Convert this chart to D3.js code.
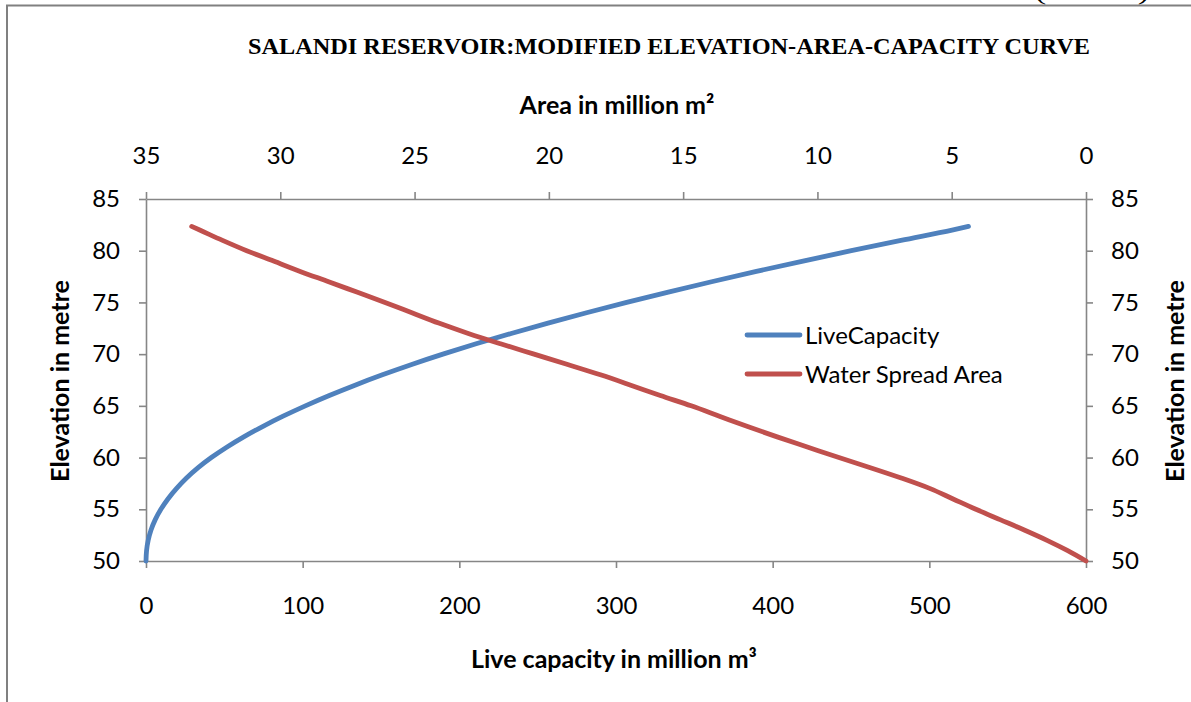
<!DOCTYPE html>
<html>
<head>
<meta charset="utf-8">
<script src="https://cdn.jsdelivr.net/npm/d3@7"></script>
<style>
  body { margin: 0; background: #fff; }
  svg { display: block; }
</style>
</head>
<body>
<svg id="chart" width="1191" height="702"></svg>
<script>
// Elevation (m) of each row of the reservoir table
const elevation = [50, 51, 52, 53, 54, 55, 56, 57, 58, 59, 60, 61, 62, 63, 64, 65, 66, 67,
  68, 69, 70, 71, 72, 73, 74, 75, 76, 77, 78, 79, 80, 81, 82, 82.35];
// Live capacity (million m³) at each elevation
const liveCapacity = [0, 0.35, 1.4, 3.2, 5.9, 9.5, 14, 19.4, 25.7, 33.1, 41.7, 51.5, 62.4, 74.4,
  87.5, 101.7, 117, 133.4, 150.9, 169.6, 189.5, 210.7, 233.1, 256.6, 281.2, 306.8, 333.4,
  361, 389.6, 419.4, 450.2, 481.9, 514.5, 525];
// Water spread area (million m²) at each elevation
const spreadArea = [0, 0.68, 1.45, 2.3, 3.2, 4.1, 4.95, 5.8, 6.85, 8.0, 9.2, 10.35, 11.5, 12.6,
  13.65, 14.7, 15.85, 16.95, 18.08, 19.3, 20.55, 21.8, 23.0, 24.1, 25.1, 26.1, 27.15, 28.2,
  29.26, 30.25, 31.25, 32.15, 33.0, 33.3];

const capacityTicks = [0, 100, 200, 300, 400, 500, 600];
const areaTicks = [35, 30, 25, 20, 15, 10, 5, 0];
const elevationTicks = [50, 55, 60, 65, 70, 75, 80, 85];

const seriesNames = ["LiveCapacity", "Water Spread Area"];
const seriesColors = ["#4F81BD", "#C0504D"];

const chartTitle = "SALANDI RESERVOIR:MODIFIED ELEVATION-AREA-CAPACITY  CURVE";
const topAxisTitle = "Area in million m²";
const bottomAxisTitle = "Live capacity in million m³";
const elevationTitle = "Elevation in metre";
const pageNote = "(Contd.)";

const svg = d3.select("#chart");
const sansFont = "Lato, 'Noto Sans', sans-serif";
const serifFont = "'Liberation Serif', 'Times New Roman', serif";
const axisGrey = "#868686";

const plot = { left: 146, right: 1086, top: 199, bottom: 561 };

const x = d3.scaleLinear().domain([0, 600]).range([plot.left, plot.right]);
const xTop = d3.scaleLinear().domain([35, 0]).range([plot.left, plot.right]);
const y = d3.scaleLinear().domain([50, 85]).range([plot.bottom, plot.top]);

// page frame
svg.append("line").attr("x1", 6).attr("x2", 1191).attr("y1", 5.5).attr("y2", 5.5)
  .attr("stroke", "#808080").attr("stroke-width", 2);
svg.append("line").attr("x1", 7).attr("x2", 7).attr("y1", 5).attr("y2", 702)
  .attr("stroke", "#808080").attr("stroke-width", 2);
svg.append("text").attr("x", 1035).attr("y", 0)
  .attr("textLength", 114).attr("lengthAdjust", "spacingAndGlyphs")
  .style("font-family", serifFont).style("font-size", "20px").text(pageNote);

// chart title
svg.append("text").attr("x", 248).attr("y", 54)
  .attr("textLength", 842).attr("lengthAdjust", "spacingAndGlyphs")
  .style("font-family", serifFont).style("font-weight", "bold").style("font-size", "23px")
  .text(chartTitle);

function styleAxis(g) {
  g.select(".domain").attr("stroke", axisGrey).attr("stroke-width", 1.6);
  g.selectAll(".tick line").attr("stroke", axisGrey).attr("stroke-width", 1.6);
  g.selectAll(".tick text").attr("fill", "#000")
    .style("font-family", sansFont).style("font-size", "24px");
}

svg.append("g").attr("transform", `translate(0,${plot.bottom})`)
  .call(d3.axisBottom(x).tickValues(capacityTicks).tickSize(7).tickSizeOuter(0).tickPadding(29))
  .call(styleAxis);
svg.append("g").attr("transform", `translate(0,${plot.top})`)
  .call(d3.axisTop(xTop).tickValues(areaTicks).tickSize(7).tickSizeOuter(0).tickPadding(28))
  .call(styleAxis);
svg.append("g").attr("transform", `translate(${plot.left},0)`)
  .call(d3.axisLeft(y).tickValues(elevationTicks).tickSize(7).tickSizeOuter(0).tickPadding(19))
  .call(styleAxis);
svg.append("g").attr("transform", `translate(${plot.right},0)`)
  .call(d3.axisRight(y).tickValues(elevationTicks).tickSize(7).tickSizeOuter(0).tickPadding(18))
  .call(styleAxis);

// axis titles
const titleStyle = sel => sel.style("font-family", sansFont).style("font-weight", "bold")
  .style("font-size", "25px").attr("text-anchor", "middle");
svg.append("text").attr("x", 617).attr("y", 114).call(titleStyle).text(topAxisTitle);
svg.append("text").attr("x", 614).attr("y", 668).call(titleStyle).text(bottomAxisTitle);
svg.append("text").attr("transform", "translate(69,381) rotate(-90)").call(titleStyle).text(elevationTitle);
svg.append("text").attr("transform", "translate(1184,381) rotate(-90)").call(titleStyle).text(elevationTitle);

// curves
const rows = elevation.map((e, i) => ({ e, cap: liveCapacity[i], area: spreadArea[i] }));
const capLine = d3.line().x(d => x(d.cap)).y(d => y(d.e)).curve(d3.curveMonotoneY);
const areaLine = d3.line().x(d => xTop(d.area)).y(d => y(d.e)).curve(d3.curveMonotoneY);

svg.append("path").datum(rows).attr("d", capLine).attr("fill", "none")
  .attr("stroke", seriesColors[0]).attr("stroke-width", 4.8).attr("stroke-linecap", "round");
svg.append("path").datum(rows).attr("d", areaLine).attr("fill", "none")
  .attr("stroke", seriesColors[1]).attr("stroke-width", 4.8).attr("stroke-linecap", "round");

// legend
const legend = svg.append("g").attr("transform", "translate(747,335)");
seriesNames.forEach((name, i) => {
  const row = legend.append("g").attr("transform", `translate(0,${i * 39})`);
  row.append("line").attr("x1", 0).attr("x2", 53).attr("y1", 0).attr("y2", 0)
    .attr("stroke", seriesColors[i]).attr("stroke-width", 4.8).attr("stroke-linecap", "round");
  row.append("text").attr("x", 58).attr("y", 0).attr("dy", "0.36em")
    .style("font-family", sansFont).style("font-size", "24px").text(name);
});
</script>
</body>
</html>
